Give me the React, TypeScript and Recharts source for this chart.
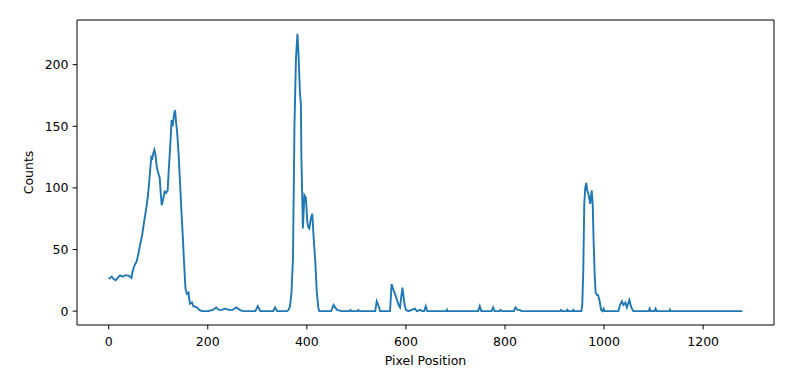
import React from 'react';
import { LineChart, Line, XAxis, YAxis, ReferenceArea } from 'recharts';

// pixel positions and counts
const positions = [
  0, 3, 6, 10, 14, 18, 23, 28, 33, 38, 43, 46, 48, 52, 57, 60, 64, 68, 72, 76, 79, 82, 84, 86, 88, 90, 92, 94, 97, 100,
  103, 105, 107, 110, 113, 116, 119, 121, 124, 127, 129, 131, 133, 134, 136, 138, 141, 144, 147, 150, 152, 155, 158, 161,
  164, 168, 171, 178, 183, 188, 201, 210, 217, 222, 228, 235, 242, 250, 257, 265, 270, 296, 301, 306, 332, 336, 340, 360,
  363, 366, 369, 372, 375, 378, 381, 383, 386, 388, 389, 392, 395, 398, 401, 403, 405, 408, 411, 413, 417, 420, 423, 425,
  449, 454, 457, 461, 470, 486, 488, 490, 502, 504, 506, 538, 541, 545, 548, 568, 571, 575, 578, 582, 585, 588, 590, 593,
  597, 600, 605, 618, 622, 629, 633, 637, 640, 643, 682, 683, 684, 746, 749, 752, 773, 776, 779, 789, 791, 794, 818, 821,
  825, 830, 833, 911, 913, 915, 925, 926, 928, 937, 938, 940, 954, 956, 958, 960, 962, 964, 966, 969, 972, 975, 977, 979,
  981, 983, 986, 988, 991, 994, 997, 999, 1001, 1029, 1032, 1036, 1039, 1043, 1046, 1051, 1055, 1059, 1090, 1092, 1094,
  1102, 1104, 1106, 1132, 1133, 1134, 1279,
];

const counts = [
  26, 27, 28, 26, 25, 27, 29, 28, 29, 29, 28, 27, 32, 37, 41, 47, 55, 63, 74, 84, 93, 106, 116, 125, 124, 128, 131, 128, 117, 112,
  108, 96, 86, 91, 97, 96, 98, 113, 133, 155, 150, 157, 162, 163, 153, 146, 128, 104, 80, 57, 40, 18, 14, 15,
  6, 7, 4, 3, 1, 0, 0, 1, 3, 1, 1, 2, 1, 1, 3, 1, 0, 0, 4, 0, 0, 3, 0, 0,
  1, 4, 15, 43, 151, 205, 225, 210, 178, 167, 124, 67, 94, 92, 72, 68, 67, 75, 79, 64, 40, 16, 3, 0,
  0, 5, 3, 1, 0, 0, 1, 0, 0, 1, 0, 0, 8, 4, 0, 0, 22, 17, 14, 9, 5, 3, 10, 19,
  6, 1, 0, 2, 0, 1, 0, 0, 4, 0, 0, 1, 0, 0, 4, 0, 0, 3, 0, 0, 1, 0, 0, 3,
  1, 1, 0, 0, 1, 0, 0, 1, 0, 0, 1, 0, 0, 5, 33, 87, 100, 104, 98, 94, 87, 98, 87, 55,
  30, 15, 13, 13, 8, 1, 0, 2, 0, 0, 5, 8, 5, 7, 3, 9, 3, 0, 0, 2, 0,
  0, 2, 0, 0, 1, 0, 0,
];

const xTicks = [0, 200, 400, 600, 800, 1000, 1200];
const yTicks = [0, 50, 100, 150, 200];

const data = positions.map((x, i) => ({ x, count: counts[i] }));

const FONT = '"DejaVu Sans", sans-serif';

const XTick = (props: any) => (
  <text x={props.x} y={346} textAnchor="middle" fontSize={12.5} fontFamily={FONT} fill="#000">
    {props.payload.value}
  </text>
);

const YTick = (props: any) => (
  <text x={68.5} y={props.y + 4.5} textAnchor="end" fontSize={12.5} fontFamily={FONT} fill="#000">
    {props.payload.value}
  </text>
);

const XTitle = () => (
  <text x={425.5} y={365} textAnchor="middle" fontSize={12.5} fontFamily={FONT} fill="#000">
    Pixel Position
  </text>
);

const YTitle = () => (
  <text x={32.5} y={172.5} textAnchor="middle" fontSize={12.5} fontFamily={FONT} fill="#000" transform="rotate(-90 32.5 172.5)">
    Counts
  </text>
);

export default function App() {
  return (
    <div style={{ position: 'absolute', left: 0, top: 0, width: 793, height: 368, background: '#fff' }}>
      <LineChart width={793} height={368} data={data} margin={{ top: 20, right: 19, left: 0, bottom: 0 }}>
        <XAxis
          type="number"
          dataKey="x"
          domain={[-64, 1343]}
          ticks={xTicks}
          allowDataOverflow
          height={43}
          axisLine={false}
          tickLine={{ stroke: '#000', strokeWidth: 1 }}
          tickSize={4.4}
          tick={<XTick />}
          label={<XTitle />}
        />
        <YAxis
          type="number"
          domain={[-11.25, 236.25]}
          ticks={yTicks}
          allowDataOverflow
          width={77}
          axisLine={false}
          tickLine={{ stroke: '#000', strokeWidth: 1 }}
          tickSize={4.4}
          tick={<YTick />}
          label={<YTitle />}
        />
        <ReferenceArea x1={-64} x2={1343} y1={-11.25} y2={236.25} fill="none" stroke="#000" strokeWidth={1} />
        <Line
          type="linear"
          dataKey="count"
          stroke="#1f77b4"
          strokeWidth={1.9}
          dot={false}
          isAnimationActive={false}
        />
      </LineChart>
    </div>
  );
}
